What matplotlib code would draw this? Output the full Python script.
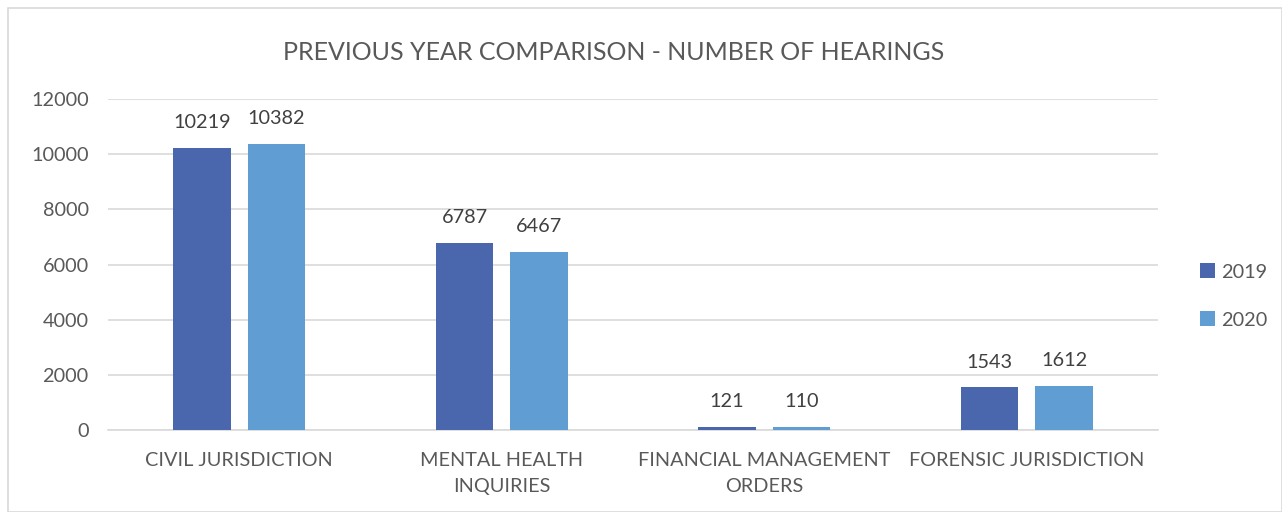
import matplotlib
matplotlib.use("Agg")
import matplotlib.pyplot as plt
from matplotlib.patches import Rectangle
import numpy as np

categories = ["CIVIL JURISDICTION", "MENTAL HEALTH\nINQUIRIES",
              "FINANCIAL MANAGEMENT\nORDERS", "FORENSIC JURISDICTION"]
hearings_2019 = [10219, 6787, 121, 1543]
hearings_2020 = [10382, 6467, 110, 1612]
series_labels = ["2019", "2020"]

plt.rcParams["font.family"] = ["Lato", "DejaVu Sans"]
TXT = "#595959"
FS = 14.3

fig = plt.figure(figsize=(12.82, 5.12), dpi=100)
ax = fig.add_axes([108 / 1282, 1 - 430 / 512, 1050 / 1282, 331 / 512])

x = np.arange(len(categories))
width = 0.22
off = 0.142
b1 = ax.bar(x - off, hearings_2019, width, color="#4A67AE", label=series_labels[0], zorder=3)
b2 = ax.bar(x + off, hearings_2020, width, color="#5F9DD2", label=series_labels[1], zorder=3)

for bars in (b1, b2):
    for bar in bars:
        h = bar.get_height()
        ax.annotate(f"{h:.0f}", (bar.get_x() + bar.get_width() / 2, h),
                    xytext=(0, 12), textcoords="offset points",
                    ha="center", va="bottom", fontsize=FS, color="#404040")

ax.set_xlim(-0.5, len(categories) - 0.5)
ax.set_ylim(0, 12000)
ax.set_yticks(np.arange(0, 12001, 2000))
ax.yaxis.grid(True, color="#D9D9D9", linewidth=1.2, zorder=0)
ax.set_axisbelow(True)
for s in ["top", "right", "left"]:
    ax.spines[s].set_visible(False)
ax.spines["bottom"].set_color("#D9D9D9")
ax.spines["bottom"].set_linewidth(1.2)
ax.tick_params(axis="both", length=0, labelsize=FS, colors=TXT)
ax.tick_params(axis="y", pad=14)
ax.tick_params(axis="x", pad=16)
ax.set_xticks(x)
ax.set_xticklabels(categories, linespacing=1.6)

fig.text(614 / 1282, 1 - 53 / 512, "PREVIOUS YEAR COMPARISON - NUMBER OF HEARINGS",
         ha="center", va="center", fontsize=18, color=TXT)

ax.legend(loc="center left", bbox_to_anchor=((1182 - 108) / 1050, 0.405),
          frameon=False, fontsize=FS, labelcolor=TXT, handlelength=0.75,
          handleheight=0.75, handletextpad=0.3, labelspacing=1.55)

fig.patches.append(Rectangle((8 / 1282, 0), 1 - 8 / 1282, 1 - 8 / 512, transform=fig.transFigure,
                             fill=False, edgecolor="#D9D9D9", linewidth=1.2))

fig.savefig("out.png", dpi=100)
